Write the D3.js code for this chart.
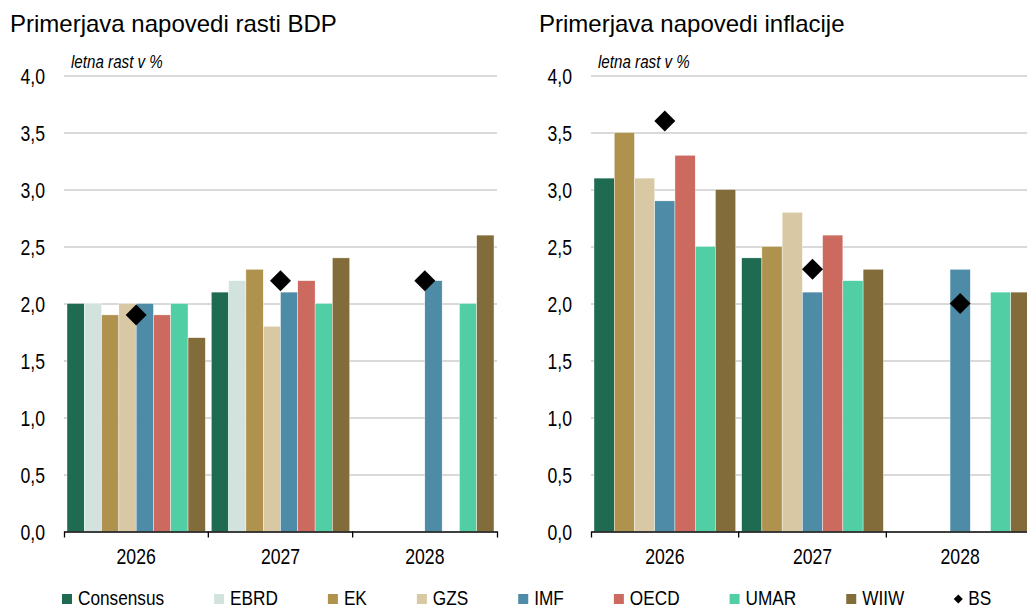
<!DOCTYPE html>
<html>
<head>
<meta charset="utf-8">
<script src="https://cdn.jsdelivr.net/npm/d3@7"></script>
<style>
  body { margin: 0; background: #fff; }
</style>
</head>
<body>
<div id="chart"></div>
<script>
// categories and series
var categories = ["2026", "2027", "2028"];
var seriesNames = ["Consensus", "EBRD", "EK", "GZS", "IMF", "OECD", "UMAR", "WIIW"];
var seriesColors = ["#1f6b52", "#d2e3dd", "#b0924f", "#d8c9a4", "#4d8ba6", "#cc6a5f", "#52cea5", "#826c3a"];
var yTicks = [0, 0.5, 1, 1.5, 2, 2.5, 3, 3.5, 4];

// GDP growth forecasts (left)
var gdpConsensus = [2.0, 2.1, null];
var gdpEBRD      = [2.0, 2.2, null];
var gdpEK        = [1.9, 2.3, null];
var gdpGZS       = [2.0, 1.8, null];
var gdpIMF       = [2.0, 2.1, 2.2];
var gdpOECD      = [1.9, 2.2, null];
var gdpUMAR      = [2.0, 2.0, 2.0];
var gdpWIIW      = [1.7, 2.4, 2.6];
var gdpBS        = [1.9, 2.2, 2.2];

// inflation forecasts (right), no EBRD
var infConsensus = [3.1, 2.4, null];
var infEK        = [3.5, 2.5, null];
var infGZS       = [3.1, 2.8, null];
var infIMF       = [2.9, 2.1, 2.3];
var infOECD      = [3.3, 2.6, null];
var infUMAR      = [2.5, 2.2, 2.1];
var infWIIW      = [3.0, 2.3, 2.1];
var infBS        = [3.6, 2.3, 2.0];

var width = 1027, height = 608;

var svg = d3.select("#chart")
  .append("svg")
  .attr("width", width)
  .attr("height", height);

// the chart text is a condensed face: squeeze Liberation Sans horizontally
var NF = "'Liberation Sans', Arial, sans-serif";
var SX = 0.82;

function narrowText(g, x, y, s, size, anchor, italic) {
  return g.append("text")
    .attr("transform", "translate(" + x + "," + y + ") scale(" + SX + ",1)")
    .attr("text-anchor", anchor || "start")
    .style("font-family", NF)
    .style("font-size", size + "px")
    .style("font-style", italic ? "italic" : "normal")
    .attr("fill", "#000")
    .text(s);
}

var y = d3.scaleLinear().domain([0, 4]).range([531.5, 75.5]);
var fmt = function(d) { return d3.format(".1f")(d).replace(".", ","); };

function drawPanel(opt) {
  var g = svg.append("g");
  var x = d3.scaleBand().domain(categories).range([opt.x0, opt.x1]).padding(0);
  var xs = d3.scaleBand().domain(opt.keys).range([3, x.bandwidth() - 3]).padding(0);

  // title
  g.append("text")
    .attr("x", opt.titleX).attr("y", 32)
    .style("font-family", "'Liberation Sans', Arial, sans-serif")
    .style("font-size", "24px")
    .attr("fill", "#000")
    .text(opt.title);

  // y axis with gridlines
  var ya = g.append("g")
    .attr("transform", "translate(" + opt.x0 + ",0)")
    .call(d3.axisLeft(y).tickValues(yTicks).tickSize(-(opt.x1 - opt.x0)).tickFormat(fmt));
  ya.select(".domain").remove();
  ya.selectAll(".tick line").attr("stroke", "#b3b3b3").attr("stroke-width", 1);
  ya.selectAll(".tick").filter(function(d) { return d === 0; }).select("line").remove();
  ya.selectAll(".tick text")
    .attr("x", null)
    .attr("dy", "0.35em")
    .attr("transform", "translate(" + (opt.labelX - opt.x0) + ",0) scale(" + SX + ",1)")
    .style("font-family", NF)
    .style("font-size", "21.5px")
    .attr("fill", "#000");

  narrowText(g, opt.x0 + 7, 68, "letna rast v %", 18.5, "start", true);

  // bars
  opt.keys.forEach(function(k, i) {
    var vals = opt.values[i];
    var col = seriesColors[seriesNames.indexOf(k)];
    g.append("g").selectAll("rect")
      .data(categories.map(function(c, j) { return { c: c, v: vals[j] }; }).filter(function(d) { return d.v != null; }))
      .enter()
      .append("rect")
        .attr("x", function(d) { return x(d.c) + xs(k); })
        .attr("y", function(d) { return y(d.v); })
        .attr("width", xs.bandwidth())
        .attr("height", function(d) { return y(0) - y(d.v); })
        .attr("fill", col)
        .attr("stroke", "#fff")
        .attr("stroke-width", 0.4);
  });

  // BS markers
  var diamond = d3.symbol().type(d3.symbolSquare).size(220);
  g.append("g").selectAll("path")
    .data(categories.map(function(c, j) { return { c: c, v: opt.bs[j] }; }).filter(function(d) { return d.v != null; }))
    .enter()
    .append("path")
      .attr("d", diamond)
      .attr("transform", function(d) {
        return "translate(" + (x(d.c) + x.bandwidth() / 2) + "," + y(d.v) + ") rotate(45)";
      })
      .attr("fill", "#000");

  // x axis
  var xa = g.append("g")
    .attr("transform", "translate(0," + y(0) + ")")
    .call(d3.axisBottom(x).tickSize(0).tickSizeOuter(6).tickPadding(17.2));
  xa.select(".domain").attr("stroke", "#000").attr("stroke-width", 1.3);
  xa.selectAll(".tick text")
    .attr("transform", "scale(" + SX + ",1)")
    .style("font-family", NF)
    .style("font-size", "21.5px")
    .attr("fill", "#000");
  g.append("g").selectAll("line")
    .data(categories.slice(1))
    .enter()
    .append("line")
      .attr("x1", function(c) { return x(c); })
      .attr("x2", function(c) { return x(c); })
      .attr("y1", y(0))
      .attr("y2", y(0) + 6)
      .attr("stroke", "#000")
      .attr("stroke-width", 1.3);
}

drawPanel({
  title: "Primerjava napovedi rasti BDP",
  titleX: 10, labelX: 45, x0: 64, x1: 497,
  keys: seriesNames,
  values: [gdpConsensus, gdpEBRD, gdpEK, gdpGZS, gdpIMF, gdpOECD, gdpUMAR, gdpWIIW],
  bs: gdpBS
});

drawPanel({
  title: "Primerjava napovedi inflacije",
  titleX: 539, labelX: 572, x0: 591, x1: 1034,
  keys: ["Consensus", "EK", "GZS", "IMF", "OECD", "UMAR", "WIIW"],
  values: [infConsensus, infEK, infGZS, infIMF, infOECD, infUMAR, infWIIW],
  bs: infBS
});

// legend
var legend = svg.append("g");
var lx = 62;
seriesNames.concat(["BS"]).forEach(function(name, i) {
  if (name === "BS") {
    legend.append("path")
      .attr("d", d3.symbol().type(d3.symbolSquare).size(41))
      .attr("transform", "translate(" + (lx + 4) + ",599) rotate(45)")
      .attr("fill", "#000");
    narrowText(legend, lx + 14, 605, name, 21, "start");
  } else {
    legend.append("rect")
      .attr("x", lx).attr("y", 594)
      .attr("width", 10).attr("height", 10)
      .attr("fill", seriesColors[i]);
    var t = narrowText(legend, lx + 16, 605, name, 21, "start");
    lx += 16 + t.node().getComputedTextLength() * SX + 50;
  }
});
</script>
</body>
</html>
